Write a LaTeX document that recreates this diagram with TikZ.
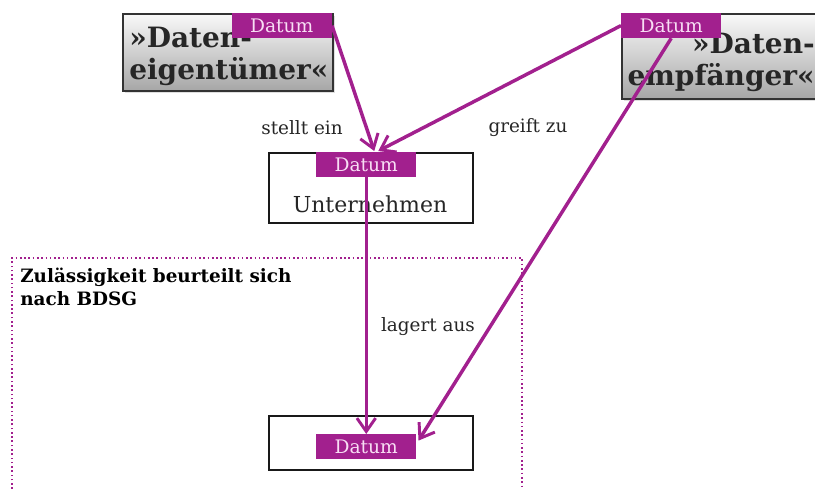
\documentclass[tikz,border=0pt]{standalone}
\usepackage{fontspec}
\setmainfont{DejaVu Serif}
\usetikzlibrary{arrows.meta,calc,shadows}
\definecolor{mag}{RGB}{162,32,142}
\definecolor{tagtxt}{RGB}{248,222,244}
\begin{document}
\begin{tikzpicture}[x=0.75pt,y=-0.75pt,
  actor/.style={draw=black!80,line width=1.4pt,top color=gray!5,bottom color=gray!70,
    drop shadow={shadow xshift=1.5pt,shadow yshift=-1.5pt,opacity=0.25},
    minimum width=157.5pt,minimum height=58pt,inner sep=0pt},
  plainbox/.style={draw=black!90,line width=1.3pt,fill=white,minimum width=153pt,inner sep=0pt},
  tag/.style={fill=mag,text=tagtxt,font=\fontsize{14}{15}\selectfont,minimum width=75pt,minimum height=18.5pt,inner sep=0pt},
  flow/.style={draw=mag,line width=2.6pt,-{Straight Barb[length=10pt,width=14pt,line width=2.2pt]}},
  lbl/.style={font=\fontsize{13.8}{15}\selectfont,text=black!85,inner sep=0pt},
  big/.style={font=\bfseries\fontsize{21}{24}\selectfont,text=black!85,inner sep=0pt}]
\useasboundingbox (0,0) rectangle (815,489);
% region
\draw[mag,line width=1.2pt,dotted] (12,489) |- (522,258) -- (522,489);
\node[anchor=north west,align=left,font=\bfseries\fontsize{13.8}{17}\selectfont,inner sep=0pt] (zul) at (20,268) {Zulässigkeit beurteilt sich\\nach BDSG};
% actors
\node[actor,anchor=north west] (eig) at (122,13) {};
\node[big,anchor=north west,align=left] (eigt) at (129,27) {»Daten-\\eigentümer«};
\node[tag,anchor=north east] (eD) at (332,13) {Datum};
\node[actor,anchor=north west,minimum width=150pt,minimum height=64pt] (emp) at (621,13) {};
\node[big,anchor=north east,align=right] (empt) at (815,33) {»Daten-\\empfänger«};
\node[tag,anchor=north west] (fD) at (621,13) {Datum};
% company
\node[plainbox,anchor=north west,minimum height=52.5pt] (unt) at (268,152) {};
\node[font=\fontsize{16.5}{19}\selectfont,text=black!85,inner sep=0pt] (untt) at (370,204) {Unternehmen};
\node[tag,anchor=north west] (uD) at (316,152) {Datum};
% storage
\node[plainbox,anchor=north west,minimum height=40.5pt] (sto) at (268,415) {};
\node[tag,anchor=north west] (bD) at (316,434) {Datum};
% labels
\node[lbl] (l1) at (302,128) {stellt ein};
\node[lbl] (l2) at (528,128) {greift zu};
\node[lbl] (l3) at (428,327) {lagert aus};
% flows
\coordinate (t1) at ($(uD.north)+(8,-1)$);
\coordinate (t2) at ($(uD.north)+(12,-1)$);
\coordinate (t3) at ($(bD.east)+(2,-6)$);
\draw[flow] (eD.east) -- (t1);
\draw[flow] (fD.west) -- (t2);
\draw[flow] (fD.south) -- (t3);
\draw[flow] (uD.south) -- (bD.north);
\end{tikzpicture}
\end{document}
